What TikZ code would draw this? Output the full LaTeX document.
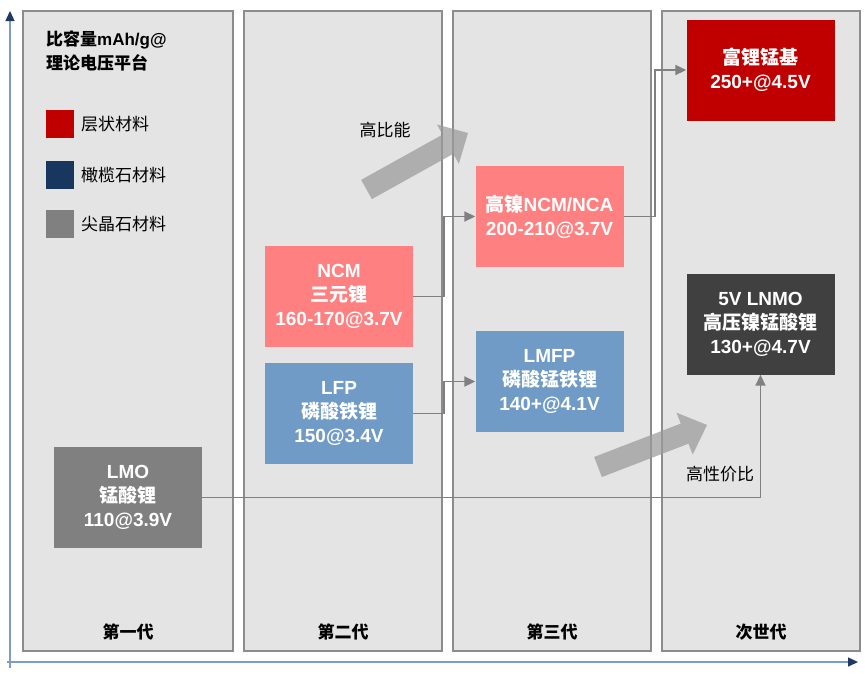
\documentclass[tikz,border=0pt]{standalone}
\usepackage{fontspec}
\setmainfont{Liberation Sans}
\newfontfamily\cjk{Noto Sans CJK SC}
\usetikzlibrary{arrows.meta,calc}
\definecolor{colfill}{HTML}{E4E4E4}
\definecolor{colline}{HTML}{8C8C8C}
\definecolor{pinkc}{HTML}{FF8080}
\definecolor{bluec}{HTML}{6F9BC6}
\definecolor{redc}{HTML}{C00000}
\definecolor{navyc}{HTML}{17375E}
\definecolor{darkc}{HTML}{404040}
\definecolor{grayc}{HTML}{808080}
\definecolor{axisline}{HTML}{7F9CC4}
\definecolor{axisdark}{HTML}{1F3864}
\definecolor{bigarr}{HTML}{9A9A9A}
\begin{document}
\begin{tikzpicture}[x=1pt,y=-1pt,
  colbox/.style={draw=colline,fill=colfill,line width=1.4pt,minimum height=640pt,inner sep=0pt},
  genlabel/.style={font=\cjk\bfseries\fontsize{17}{20}\selectfont,text=black},
  matbox/.style={minimum width=148pt,minimum height=101pt,inner sep=0pt,text=white,align=center,
    font=\bfseries\fontsize{19}{24}\selectfont},
  legsq/.style={minimum size=28pt,inner sep=0pt},
  legtext/.style={anchor=west,font=\cjk\fontsize{17}{20}\selectfont,inner sep=0pt},
  conn/.style={draw=grayc,line width=1.8pt,-{Triangle[length=11pt,width=10pt]}},
  axis/.style={draw=axisline,line width=1.4pt,-{Triangle[length=10pt,width=9pt,color=axisdark]}},
  bigarrow/.style={fill=bigarr,fill opacity=0.72},
  arrlabel/.style={font=\cjk\fontsize{17}{20}\selectfont,inner sep=0pt}
]
\useasboundingbox (0,0) rectangle (865,673);

% axes
\coordinate (yb) at (10,668);
\coordinate (yt) at (10,11);
\coordinate (xl) at (7,662);
\coordinate (xr) at (858,662);
\draw[axis] (yb) -- (yt);
\draw[axis] (xl) -- (xr);

% columns
\node[colbox,minimum width=210pt] (c1) at (128,331) {};
\node[colbox,minimum width=198pt] (c2) at (343,331) {};
\node[colbox,minimum width=198pt] (c3) at (552,331) {};
\node[colbox,minimum width=198pt] (c4) at (761,331) {};

\node[genlabel] (g1) at (128,632) {第一代};
\node[genlabel] (g2) at (343,632) {第二代};
\node[genlabel] (g3) at (552,632) {第三代};
\node[genlabel] (g4) at (761,632) {次世代};

% legend
\node[anchor=west,inner sep=0pt,font=\bfseries\fontsize{17}{20}\selectfont] (t1) at (46,40) {{\cjk 比容量}mAh/g@};
\node[anchor=west,inner sep=0pt,font=\cjk\bfseries\fontsize{17}{20}\selectfont] (t2) at (46,63) {理论电压平台};
\node[legsq,fill=redc] (s1) at (59.5,124) {};
\node[legsq,fill=navyc] (s2) at (59.5,175) {};
\node[legsq,fill=grayc] (s3) at (59.5,224) {};
\node[legtext] (l1) at (81,124) {层状材料};
\node[legtext] (l2) at (81,175) {橄榄石材料};
\node[legtext] (l3) at (81,224) {尖晶石材料};

% material boxes
\node[matbox,fill=grayc] (lmo) at (128,497.5) {LMO\\{\cjk 锰酸锂}\\110@3.9V};
\node[matbox,fill=pinkc] (ncm) at (339,296.5) {NCM\\{\cjk 三元锂}\\160-170@3.7V};
\node[matbox,fill=bluec] (lfp) at (339,413.5) {LFP\\{\cjk 磷酸铁锂}\\150@3.4V};
\node[matbox,fill=pinkc] (hn) at (549.5,216.5) {{\cjk 高镍}NCM/NCA\\200-210@3.7V};
\node[matbox,fill=bluec] (lmfp) at (549.5,381.5) {LMFP\\{\cjk 磷酸锰铁锂}\\140+@4.1V};
\node[matbox,fill=redc] (fl) at (760.5,70) {{\cjk 富锂锰基}\\250+@4.5V};
\node[matbox,fill=darkc] (lnmo) at (760.5,324) {5V LNMO\\{\cjk 高压镍锰酸锂}\\130+@4.7V};

% connectors
\draw[conn] (ncm.east) -- ++(31,0) |- (hn.west);
\draw[conn] (lfp.east) -- ++(31,0) |- (lmfp.west);
\draw[conn] (hn.east) -- ++(31,0) |- (fl.west);
\draw[conn] (lmo.east) -| (lnmo.south);

% big arrows
\coordinate (aT) at (366.5,189.5);
\coordinate (aP) at (468,133);
\coordinate (aN) at ($(aP)!23pt!(aT)$);
\fill[bigarrow] ($(aT)!11pt!90:(aP)$) -- ($(aN)!11pt!-90:(aT)$) -- ($(aN)!22.5pt!-90:(aT)$) -- (aP)
  -- ($(aN)!22.5pt!90:(aT)$) -- ($(aN)!11pt!90:(aT)$) -- ($(aT)!11pt!-90:(aP)$) -- cycle;
\coordinate (bT) at (598,467);
\coordinate (bP) at (707,425);
\coordinate (bN) at ($(bP)!24pt!(bT)$);
\fill[bigarrow] ($(bT)!10.75pt!90:(bP)$) -- ($(bN)!10.75pt!-90:(bT)$) -- ($(bN)!22.5pt!-90:(bT)$) -- (bP)
  -- ($(bN)!22.5pt!90:(bT)$) -- ($(bN)!10.75pt!90:(bT)$) -- ($(bT)!10.75pt!-90:(bP)$) -- cycle;

\node[arrlabel] (al1) at (385,130) {高比能};
\node[arrlabel] (al2) at (720,474) {高性价比};
\end{tikzpicture}
\end{document}
